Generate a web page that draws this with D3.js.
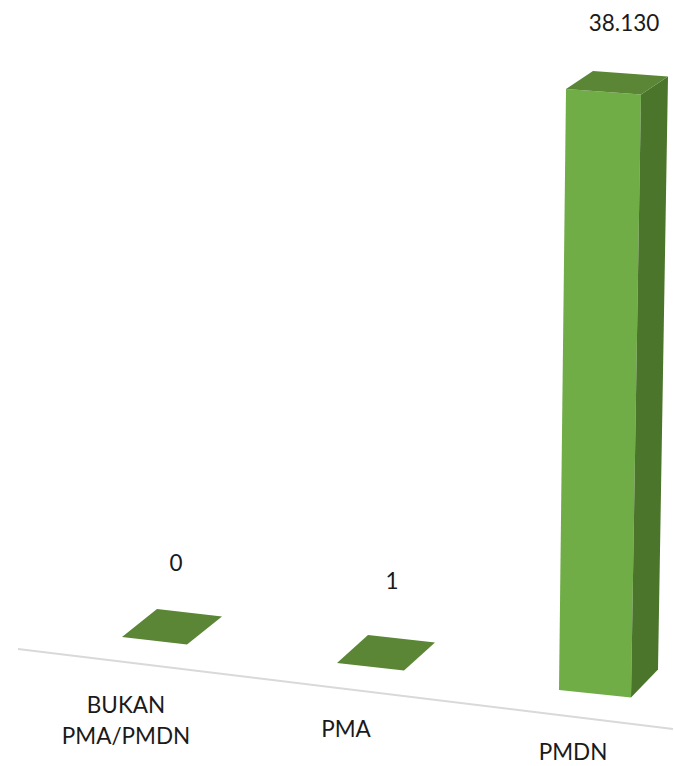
<!DOCTYPE html>
<html><head><meta charset="utf-8">
<style>html,body{margin:0;padding:0;background:#fff}svg{display:block}text{font-family:Lato,"Open Sans",sans-serif;fill:#1a1a1a}</style>
<script src="https://cdn.jsdelivr.net/npm/d3@7/dist/d3.min.js"></script>
</head><body><svg id="c" width="674" height="766"></svg>
<script>
const categories = ["BUKAN PMA/PMDN", "PMA", "PMDN"];
const values = [0, 1, 38130];
const valueLabels = ["0", "1", "38.130"];
const categoryLines = [["BUKAN", "PMA/PMDN"], ["PMA"], ["PMDN"]];

const svg = d3.select("#c");
const idx = categories.map((_, i) => i);
// oblique floor projection: category index -> front-left corner of the bar's base
const D = [0, 1, 2];
const baseX = d3.scaleLinear().domain(D).range([122, 337, 559]);
const baseY = d3.scaleLinear().domain(D).range([637, 663, 690]);
const widthX = d3.scaleLinear().domain(D).range([65, 67, 72]);
const depthX = d3.scaleLinear().domain(D).range([35, 31, 27]);
// value -> height and perspective changes with height
const vd = [0, 38130];
const h = d3.scaleLinear().domain(vd).range([0, 601]);
const lean = d3.scaleLinear().domain(vd).range([0, 7]);
const widen = d3.scaleLinear().domain(vd).range([0, 3]);
const depthY = d3.scaleLinear().domain(vd).range([-28, -18]);

const poly = pts => "M" + pts.map(p => p.join(",")).join("L") + "Z";

// floor line
const axisX = d3.scaleLinear().domain([0, 1]).range([18, 673]);
const axisY = d3.scaleLinear().domain([0, 1]).range([649, 729]);
svg.append("path")
  .attr("d", d3.line()([[axisX(0), axisY(0)], [axisX(1), axisY(1)]]))
  .attr("stroke", "#d9d9d9").attr("stroke-width", 2).attr("fill", "none");

const g = svg.selectAll("g.bar").data(idx).join("g").attr("class", "bar");
g.each(function (i) {
  const v = values[i], s = d3.select(this);
  const x0 = baseX(i), y0 = baseY(i), w = widthX(i), dx = depthX(i);
  const fbl = [x0, y0], fbr = [x0 + w, y0 + 7.5];
  const bbr = [fbr[0] + dx, fbr[1] + depthY(0)];
  const ftl = [x0 + lean(v), y0 - h(v)];
  const ftr = [x0 + w + lean(v) + widen(v), y0 + 7.5 - h(v) - widen(v) * 0.67];
  const d = depthY(v);
  const btl = [ftl[0] + dx, ftl[1] + d], btr = [ftr[0] + dx, ftr[1] + d];
  if (h(v) > 2) {
    s.append("path").attr("d", poly([fbl, fbr, ftr, ftl])).attr("fill", "#70ad47");
    s.append("path").attr("d", poly([fbr, bbr, btr, ftr])).attr("fill", "#4b752a");
  }
  s.append("path").attr("d", poly([ftl, ftr, btr, btl])).attr("fill", "#5a8636");
});

// value labels
const labelX = d3.scaleLinear().domain(D).range([176, 392, 624]);
const labelY = d3.scaleLinear().domain(D).range([571, 589, 31]);
svg.selectAll("text.val").data(idx).join("text").attr("class", "val")
  .attr("x", i => labelX(i)).attr("y", i => labelY(i))
  .attr("text-anchor", "middle").attr("font-size", 22.5)
  .text(i => valueLabels[i]);

// category labels
const catX = d3.scaleLinear().domain(D).range([126, 346, 573]);
const catY = d3.scaleLinear().domain(D).range([713, 737, 760]);
svg.selectAll("text.cat").data(idx).join("text").attr("class", "cat")
  .attr("text-anchor", "middle").attr("font-size", 22.5)
  .each(function (i) {
    const t = d3.select(this);
    categoryLines[i].forEach((ln, k) => t.append("tspan")
      .attr("x", catX(i)).attr("y", catY(i) + k * 31).text(ln));
  });
</script></body></html>
